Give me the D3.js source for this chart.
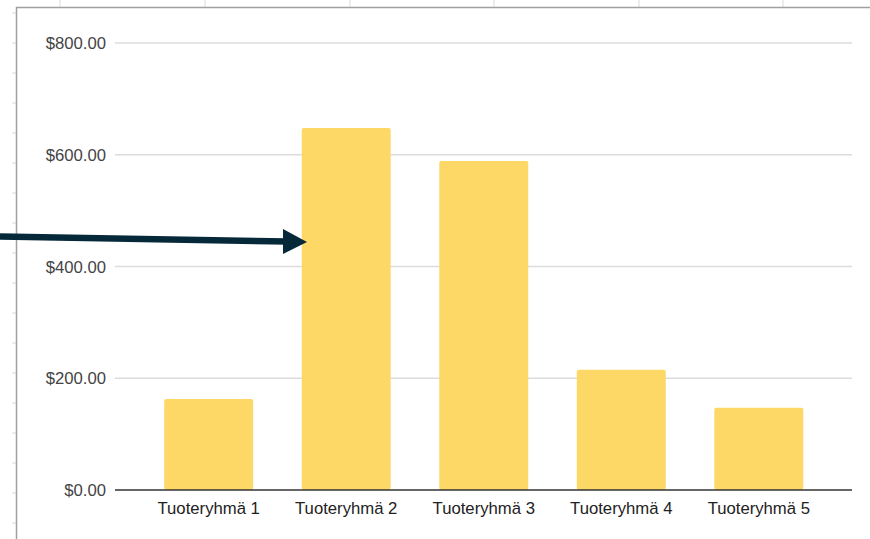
<!DOCTYPE html>
<html lang="en">
<head>
    <meta charset="UTF-8">
    <title>Tuoteryhmät</title>
    <style>
        body { margin: 0; background: #fff; }
        svg { display: block; font-family: "Liberation Sans", Arial, sans-serif; }
        .grid line { stroke: #dcdcdc; stroke-width: 1.5; }
        .ylab { fill: #444; font-size: 16.7px; }
        .xlab { fill: #222; font-size: 16.7px; }
    </style>
    <script src="https://d3js.org/d3.v7.min.js"></script>
</head>
<body>
    <svg width="870" height="539"></svg>
    <script>
        const categories = ["Tuoteryhmä 1", "Tuoteryhmä 2", "Tuoteryhmä 3", "Tuoteryhmä 4", "Tuoteryhmä 5"];
        const values = [163, 648, 589, 215, 147];
        const yTicks = [0, 200, 400, 600, 800];

        const width = 870;
        const height = 539;

        const svg = d3.select("svg");

        // spreadsheet grid behind the chart
        const cols = [60, 205, 350, 494, 639, 783];
        svg.append("g").selectAll("line").data(cols).enter().append("line")
            .attr("x1", d => d).attr("x2", d => d)
            .attr("y1", 0).attr("y2", 7)
            .attr("stroke", "#dadada").attr("stroke-width", 1);
        svg.append("g").selectAll("line").data(d3.range(13, height, 30)).enter().append("line")
            .attr("x1", 12).attr("x2", 16)
            .attr("y1", d => d).attr("y2", d => d)
            .attr("stroke", "#dadada").attr("stroke-width", 1);

        // chart frame
        svg.append("path")
            .attr("d", `M16.5,${height} L16.5,7.5 L${width},7.5`)
            .attr("fill", "none")
            .attr("stroke", "#a0a0a0")
            .attr("stroke-width", 1.5);

        const x = d3.scaleBand()
            .domain(categories)
            .range([140, 827.5])
            .paddingInner(0.353)
            .paddingOuter(0.176);

        const y = d3.scaleLinear()
            .domain([0, 800])
            .range([490, 43]);

        const grid = svg.append("g").attr("class", "grid");
        grid.selectAll("line")
            .data(yTicks.filter(d => d > 0))
            .enter().append("line")
            .attr("x1", 115).attr("x2", 852)
            .attr("y1", d => y(d)).attr("y2", d => y(d));

        svg.append("g").selectAll("text")
            .data(yTicks)
            .enter().append("text")
            .attr("class", "ylab")
            .attr("x", 106)
            .attr("y", d => y(d) + 6)
            .attr("text-anchor", "end")
            .text(d => "$" + d3.format(".2f")(d));

        svg.append("g").selectAll("rect")
            .data(values)
            .enter().append("rect")
            .attr("x", (d, i) => x(categories[i]))
            .attr("y", d => y(d))
            .attr("width", x.bandwidth())
            .attr("height", d => y(0) - y(d))
            .attr("rx", 2)
            .attr("fill", "#fdd866");

        svg.append("line")
            .attr("x1", 115).attr("x2", 852)
            .attr("y1", y(0)).attr("y2", y(0))
            .attr("stroke", "#333")
            .attr("stroke-width", 1.5);

        svg.append("g").selectAll("text")
            .data(categories)
            .enter().append("text")
            .attr("class", "xlab")
            .attr("x", d => x(d) + x.bandwidth() / 2)
            .attr("y", 514)
            .attr("text-anchor", "middle")
            .text(d => d);

        // annotation arrow
        svg.append("line")
            .attr("x1", 0).attr("y1", 236.5)
            .attr("x2", 288).attr("y2", 241.5)
            .attr("stroke", "#06293a")
            .attr("stroke-width", 6.5);
        svg.append("path")
            .attr("d", "M283,229 L307,242 L283,254 Z")
            .attr("fill", "#06293a");
    </script>
</body>
</html>
